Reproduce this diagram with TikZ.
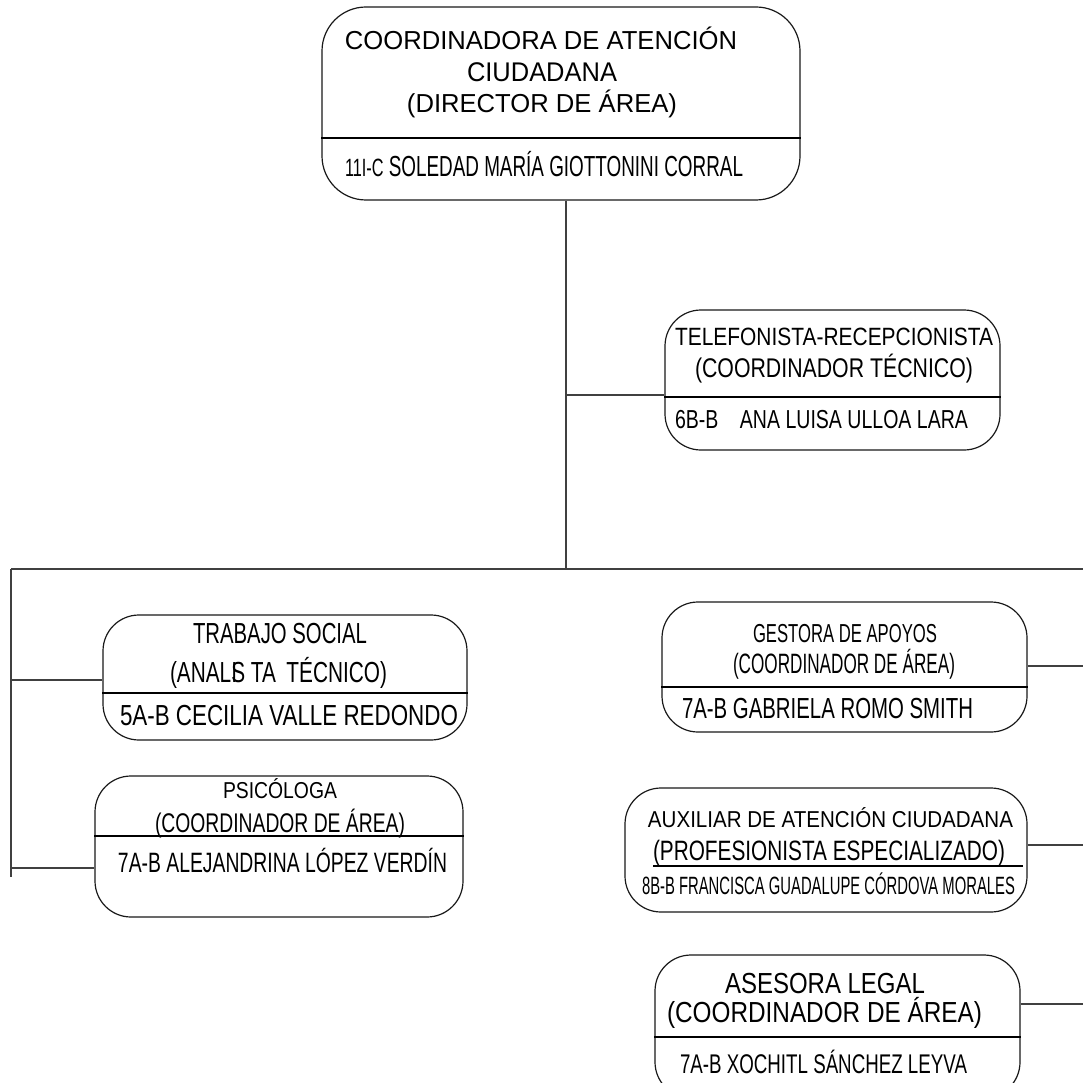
\documentclass[tikz,border=0pt]{standalone}
\usepackage{fontspec}
\setmainfont{Liberation Sans}
\usepackage{graphicx}
\newcommand{\ajusta}[3]{\resizebox{#1pt}{\height}{\fontsize{#2}{#2}\selectfont #3}}
\tikzset{
  caja/.style={draw=black!90, line width=1.2pt, rounded corners=#1},
  caja/.default=36pt,
  linea/.style={draw=black!75, line width=1.3pt},
  txt/.style={anchor=base, inner sep=0pt},
}
\begin{document}
\begin{tikzpicture}[x=1pt, y=-1pt]
  \useasboundingbox (0,0) rectangle (1083,1083);
  \clip (0,0) rectangle (1083,1083);
  % cajas
  \node[caja=44pt, minimum width=478pt, minimum height=193pt] (coord) at (561,103.5) {};
  \node[caja, minimum width=335pt, minimum height=140pt] (tel) at (832.5,380) {};
  \node[caja, minimum width=364pt, minimum height=125pt] (trab) at (285,677.5) {};
  \node[caja, minimum width=368pt, minimum height=141pt] (psi) at (279,846.5) {};
  \node[caja, minimum width=365pt, minimum height=130pt] (gest) at (844.5,667) {};
  \node[caja, minimum width=402pt, minimum height=124pt] (aux) at (826,850) {};
  \node[caja, minimum width=365pt, minimum height=143pt] (ases) at (837.5,1026.5) {};
  % divisiones
  \draw[line width=1.2pt] (coord.west |- 0,138) -- (coord.east |- 0,138);
  \draw[line width=1.2pt] (tel.west |- 0,397) -- (tel.east |- 0,397);
  \draw[line width=1.2pt] (trab.west |- 0,693) -- (trab.east |- 0,693);
  \draw[line width=1.2pt] (psi.west |- 0,836) -- (psi.east |- 0,836);
  \draw[line width=1.2pt] (gest.west |- 0,687) -- (gest.east |- 0,687);
  \draw[line width=1.2pt] (653,866) -- (1023,866);
  \draw[line width=1.2pt] (ases.west |- 0,1037) -- (ases.east |- 0,1037);
  % textos
  \node[txt] (coord1) at (541,50) {\ajusta{392}{26}{COORDINADORA DE ATENCIÓN}};
  \node[txt] (coord2) at (542,82) {\ajusta{150}{27}{CIUDADANA}};
  \node[txt] (coord3) at (542,113) {\ajusta{270}{26}{(DIRECTOR DE ÁREA)}};
  \node[txt] (coordn) at (544,177) {\ajusta{398}{29}{{\fontsize{25}{25}\selectfont 11I-C} SOLEDAD MARÍA GIOTTONINI CORRAL}};
  \node[txt] (tel1) at (834,345) {\ajusta{318}{25}{TELEFONISTA-RECEPCIONISTA}};
  \node[txt] (tel2) at (834,377) {\ajusta{278}{27}{(COORDINADOR TÉCNICO)}};
  \node[txt] (teln) at (821.5,428) {\ajusta{293}{26}{6B-B\hspace{1.1em}ANA LUISA ULLOA LARA}};
  \node[txt] (trab1) at (280,643) {\ajusta{174}{29}{TRABAJO SOCIAL}};
  \node[txt] (trab2) at (278.5,682) {\ajusta{217}{29}{(ANAL\rlap{I}S TA\hspace{0.5em}TÉCNICO)}};
  \node[txt] (trabn) at (289,725) {\ajusta{338}{29}{5A-B CECILIA VALLE REDONDO}};
  \node[txt] (psi1) at (280,798) {\ajusta{114}{23}{PSICÓLOGA}};
  \node[txt] (psi2) at (280,832) {\ajusta{250}{27}{(COORDINADOR DE ÁREA)}};
  \node[txt] (psin) at (282.5,872) {\ajusta{329}{28}{7A-B ALEJANDRINA LÓPEZ VERDÍN}};
  \node[txt] (gest1) at (845,642) {\ajusta{184}{26}{GESTORA DE APOYOS}};
  \node[txt] (gest2) at (844,673) {\ajusta{222}{28}{(COORDINADOR DE ÁREA)}};
  \node[txt] (gestn) at (827.5,718) {\ajusta{291}{29}{7A-B GABRIELA ROMO SMITH}};
  \node[txt] (aux1) at (830.5,827) {\ajusta{365}{23}{AUXILIAR DE ATENCIÓN CIUDADANA}};
  \node[txt] (aux2) at (829,860) {\ajusta{352}{28}{(PROFESIONISTA ESPECIALIZADO)}};
  \node[txt] (auxn) at (828.5,894) {\ajusta{373}{25}{8B-B FRANCISCA GUADALUPE CÓRDOVA MORALES}};
  \node[txt] (ases1) at (825,993) {\ajusta{200}{29}{ASESORA LEGAL}};
  \node[txt] (ases2) at (824.5,1022) {\ajusta{315}{29}{(COORDINADOR DE ÁREA)}};
  \node[txt] (asesn) at (823.5,1073) {\ajusta{287}{27}{7A-B XOCHITL SÁNCHEZ LEYVA}};
  % conectores
  \coordinate (nudo) at (566,569);
  \coordinate (rtel) at (566,395);
  \coordinate (busizq) at (11,569);
  \coordinate (busder) at (1083,569);
  \coordinate (izqfin) at (11,877);
  \coordinate (rtrab) at (11,680);
  \coordinate (rpsi) at (11,868);
  \coordinate (rgest) at (1083,666);
  \coordinate (raux) at (1083,845);
  \coordinate (rases) at (1083,1004);
  \draw[linea] (coord.south -| nudo) -- (nudo);
  \draw[linea] (rtel) -- (rtel -| tel.west);
  \draw[linea] (busizq) -- (busder);
  \draw[linea] (busizq) -- (izqfin);
  \draw[linea] (rtrab) -- (rtrab -| trab.west);
  \draw[linea] (rpsi) -- (rpsi -| psi.west);
  \draw[linea] (gest.east |- rgest) -- (rgest);
  \draw[linea] (aux.east |- raux) -- (raux);
  \draw[linea] (ases.east |- rases) -- (rases);
\end{tikzpicture}
\end{document}
